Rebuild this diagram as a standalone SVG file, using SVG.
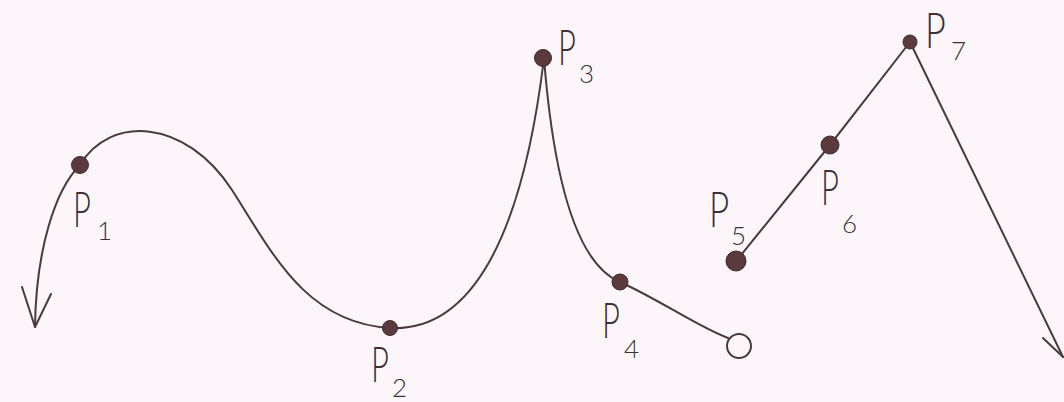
<svg xmlns="http://www.w3.org/2000/svg" width="1064" height="402" viewBox="0 0 1064 402">
<style>
.ln{fill:none;stroke:#4a3a3c;stroke-width:2;stroke-linecap:round;stroke-linejoin:round}
.dot{fill:#5a3a3c;stroke:#3e2a2c;stroke-width:1}
.lb{font-family:Lato,"DejaVu Sans",sans-serif;font-weight:300;fill:#3e3034}
.p{font-size:50px}
.s{font-size:26px}
</style>
<rect width="1064" height="402" fill="#fcf6fb"/>
<g id="connectors">
<path class="ln" d="M80,165 C110,115 185,118 232,190 C272,252 305,323 390,328 C470,332 522,240 544,58 C552,160 572,262 620,282 C660,300 700,328 728,338"/>
<path class="ln" d="M80,165 C55,190 36,250 35,327"/>
<path class="ln" d="M22,287 L35,327 L51,294"/>
<path class="ln" d="M737,260 L830,145 L910,42 L1063,357"/>
<path class="ln" d="M1043,338 L1063,357"/>
</g>
<g id="P1"><circle class="dot" cx="80" cy="165" r="8.5"/><text class="lb p" transform="translate(73,227) scale(0.62,1)">P</text><text class="lb s" x="97" y="240">1</text></g>
<g id="P2"><circle class="dot" cx="390" cy="328" r="7.5"/><text class="lb p" transform="translate(371,382) scale(0.62,1)">P</text><text class="lb s" x="392" y="397">2</text></g>
<g id="P3"><circle class="dot" cx="543" cy="58" r="8.5"/><text class="lb p" transform="translate(558,65) scale(0.62,1)">P</text><text class="lb s" x="579" y="83">3</text></g>
<g id="P4"><circle class="dot" cx="620" cy="282" r="8"/><text class="lb p" transform="translate(602,338) scale(0.62,1)">P</text><text class="lb s" x="624" y="358">4</text></g>
<g id="end"><circle class="ln" cx="739" cy="346" r="12"/></g>
<g id="P5"><circle class="dot" cx="736" cy="261" r="10"/><text class="lb p" transform="translate(709,227) scale(0.7,1)">P</text><text class="lb s" x="731" y="245">5</text></g>
<g id="P6"><circle class="dot" cx="830" cy="145" r="9"/><text class="lb p" transform="translate(821,205) scale(0.62,1)">P</text><text class="lb s" x="842" y="233">6</text></g>
<g id="P7"><circle class="dot" cx="910" cy="42" r="7"/><text class="lb p" transform="translate(925,48) scale(0.72,1)">P</text><text class="lb s" x="951" y="60">7</text></g>
</svg>
